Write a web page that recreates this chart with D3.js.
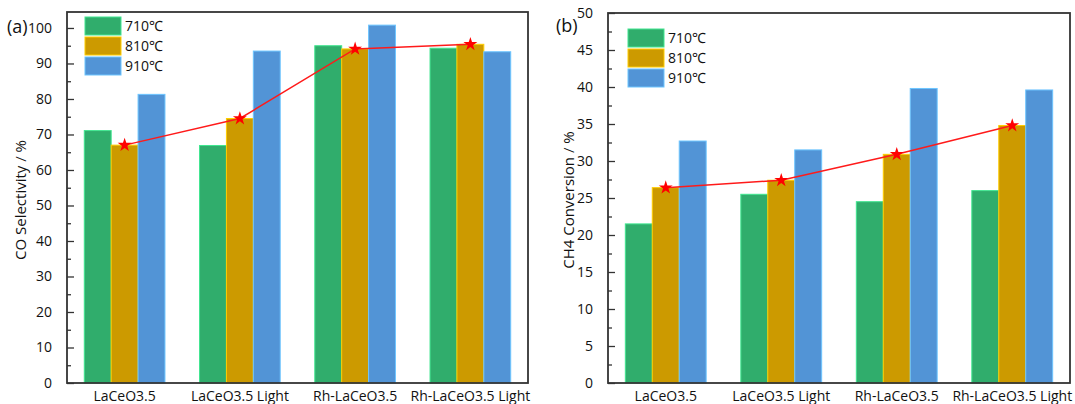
<!DOCTYPE html>
<html>
<head>
<meta charset="utf-8">
<script src="https://cdn.jsdelivr.net/npm/d3@7"></script>
<style>
  body { margin: 0; background: #fff; }
  svg text { font-family: "Open Sans", "Noto Sans", sans-serif; fill: #111; }
</style>
</head>
<body>
<svg id="chart" width="1075" height="404"></svg>
<script>
let categories = ["LaCeO3.5", "LaCeO3.5 Light", "Rh-LaCeO3.5", "Rh-LaCeO3.5 Light"]
let temps = ["710℃", "810℃", "910℃"]
let colors = ["#30ad6c", "#cc9a00", "#5294d6"]

// panel (a) CO selectivity
let coSel710 = [71.1, 66.9, 95.0, 94.3]
let coSel810 = [67.0, 74.5, 94.1, 95.4]
let coSel910 = [81.3, 93.5, 100.8, 93.3]
let coLine = [67.0, 74.5, 94.1, 95.4]
let coTicks = [0, 10, 20, 30, 40, 50, 60, 70, 80, 90, 100]

// panel (b) CH4 conversion
let ch4Conv710 = [21.5, 25.5, 24.5, 26.0]
let ch4Conv810 = [26.4, 27.4, 30.9, 34.8]
let ch4Conv910 = [32.7, 31.5, 39.8, 39.6]
let ch4Line = [26.4, 27.4, 30.9, 34.8]
let ch4Ticks = [0, 5, 10, 15, 20, 25, 30, 35, 40, 45, 50]

let svg = d3.select("#chart")

function panel(opt) {
    let g = svg.append("g")
    let x = d3.scaleBand().domain(categories).range([opt.left, opt.right])
        .paddingInner(0.3).paddingOuter(0.15)
    let xs = d3.scaleBand().domain(temps).range([0, x.bandwidth()])
    let y = d3.scaleLinear().domain(opt.domain).range([383, opt.top])

    let series = [opt.s1, opt.s2, opt.s3]
    let cells = []
    series.forEach((s, i) => s.forEach((v, j) => cells.push({ c: categories[j], t: temps[i], v: v, i: i })))

    g.append("g")
        .selectAll("rect")
        .data(cells)
        .join("rect")
        .attr("x", d => x(d.c) + xs(d.t))
        .attr("width", xs.bandwidth())
        .attr("y", d => y(d.v))
        .attr("height", d => y(0) - y(d.v))
        .attr("fill", d => colors[d.i])
        .attr("stroke", d => d3.color(colors[d.i]).brighter(0.8))
        .attr("stroke-width", 1)

    // y axis, inward ticks
    let minor = d3.range(opt.domain[0] + opt.step / 2, opt.domain[1], opt.step)
    g.append("g")
        .attr("transform", `translate(${opt.left},0)`)
        .call(d3.axisLeft(y).tickValues(minor).tickSize(-4).tickFormat(""))
        .call(a => a.select(".domain").remove())
        .call(a => a.selectAll("line").attr("stroke", "#333").attr("stroke-width", 1.3))
    g.append("g")
        .attr("transform", `translate(${opt.left},0)`)
        .call(d3.axisLeft(y).tickValues(opt.ticks).tickSize(-7).tickPadding(15))
        .call(a => a.select(".domain").remove())
        .call(a => a.selectAll("line").attr("stroke", "#333").attr("stroke-width", 1.3))
        .call(a => a.selectAll("text").attr("font-size", 14).attr("fill", "#111"))

    // x labels
    g.append("g")
        .attr("transform", "translate(0,383)")
        .call(d3.axisBottom(x).tickSize(0).tickPadding(8))
        .call(a => a.select(".domain").remove())
        .call(a => a.selectAll("text").attr("font-size", 14).attr("fill", "#111"))

    // frame
    g.append("rect")
        .attr("x", opt.left).attr("y", opt.top)
        .attr("width", opt.right - opt.left).attr("height", 383 - opt.top)
        .attr("fill", "none").attr("stroke", "#333").attr("stroke-width", 1.8)

    // trend line
    let line = d3.line()
        .x((d, j) => x(categories[j]) + xs(temps[1]) + xs.bandwidth() / 2)
        .y(d => y(d))
    g.append("path")
        .datum(opt.line)
        .attr("d", line)
        .attr("fill", "none")
        .attr("stroke", "#ff1a1a")
        .attr("stroke-width", 1.5)
    g.append("g")
        .selectAll("path")
        .data(opt.line)
        .join("path")
        .attr("transform", (d, j) => `translate(${x(categories[j]) + xs(temps[1]) + xs.bandwidth() / 2},${y(d)})`)
        .attr("d", d3.symbol(d3.symbolStar, 60))
        .attr("fill", "#ff0000")

    // legend
    let lg = g.append("g").attr("transform", `translate(${opt.legX},${opt.legY})`)
    temps.forEach((t, i) => {
        lg.append("rect")
            .attr("x", 0).attr("y", i * 20)
            .attr("width", 36).attr("height", 18)
            .attr("fill", colors[i])
            .attr("stroke", d3.color(colors[i]).brighter(0.8))
        lg.append("text")
            .attr("x", 40).attr("y", i * 20 + 14)
            .attr("font-size", 14)
            .text(t)
    })

    // y title
    svg.append("text")
        .attr("transform", `translate(${opt.titleX},200) rotate(-90)`)
        .attr("text-anchor", "middle")
        .attr("font-size", 15)
        .text(opt.title)

    svg.append("text")
        .attr("x", opt.tagX).attr("y", opt.tagY)
        .attr("font-size", 18)
        .text(opt.tag)
}

panel({
    left: 67, right: 528, top: 12, domain: [0, 104.5], step: 10, ticks: coTicks,
    s1: coSel710, s2: coSel810, s3: coSel910, line: coLine,
    legX: 85, legY: 17, title: "CO Selectivity / %", titleX: 26, tag: "(a)", tagX: 7, tagY: 33
})

panel({
    left: 608, right: 1070, top: 13, domain: [0, 50], step: 5, ticks: ch4Ticks,
    s1: ch4Conv710, s2: ch4Conv810, s3: ch4Conv910, line: ch4Line,
    legX: 628, legY: 29, title: "CH4 Conversion / %", titleX: 574, tag: "(b)", tagX: 556, tagY: 32
})
</script>
</body>
</html>
